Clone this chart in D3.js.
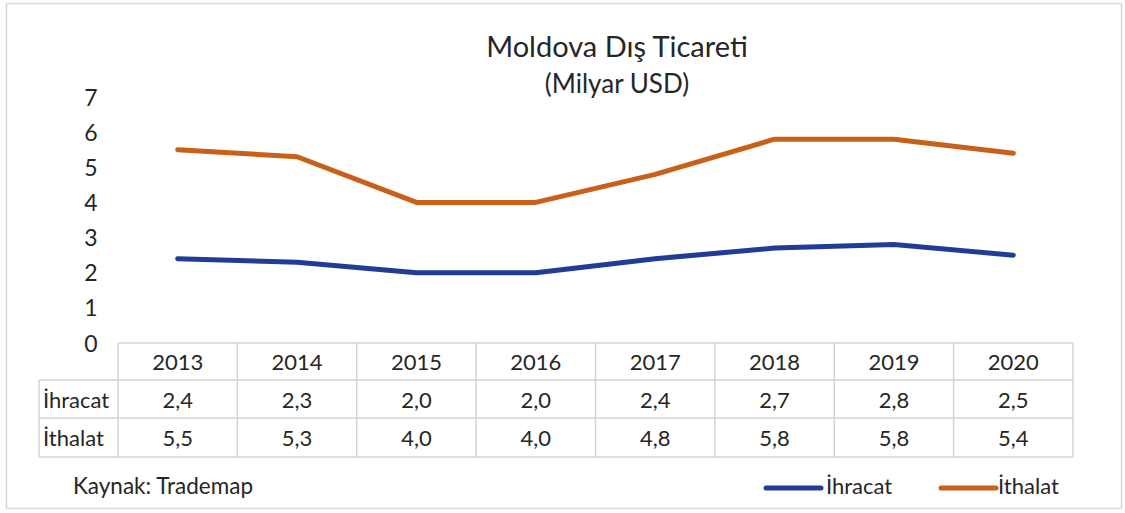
<!DOCTYPE html>
<html><head><meta charset="utf-8">
<script src="https://cdn.jsdelivr.net/npm/d3@7"></script>
<style>body{margin:0;background:#fff}svg{display:block}text{font-family:Lato,"Open Sans",sans-serif;fill:#262626}</style>
</head><body>
<svg id="c" width="1125" height="513"></svg>
<script>
const years = ["2013","2014","2015","2016","2017","2018","2019","2020"];
const ihracat = [2.4, 2.3, 2.0, 2.0, 2.4, 2.7, 2.8, 2.5];
const ithalat = [5.5, 5.3, 4.0, 4.0, 4.8, 5.8, 5.8, 5.4];
const yTicks = [0,1,2,3,4,5,6,7];
const seriesNames = ["İhracat","İthalat"];
const colors = ["#213C96","#C8601A"];
const title = "Moldova Dış Ticareti";
const subtitle = "(Milyar USD)";
const source = "Kaynak: Trademap";

const svg = d3.select("#c");
svg.append("rect").attr("x",6.5).attr("y",3.5).attr("width",1115).attr("height",505)
  .attr("fill","#fff").attr("stroke","#d9d9d9").attr("stroke-width",1.5);

const x = d3.scaleBand().domain(years).range([118,1073]);
const y = d3.scaleLinear().domain([0,7]).range([343,97]);

svg.append("text").attr("x",617).attr("y",57).attr("text-anchor","middle").style("font-size","29px").text(title);
svg.append("text").attr("x",617).attr("y",93).attr("text-anchor","middle").style("font-size","26px").text(subtitle);

// y axis labels
const yAxis = d3.axisLeft(y).tickValues(yTicks).tickFormat(d3.format("d")).tickSize(0).tickPadding(0);
const ya = svg.append("g").attr("transform","translate(91,0)").call(yAxis);
ya.select(".domain").remove();
ya.selectAll("text").attr("text-anchor","middle").style("font-size","23px").style("font-family","Lato,'Open Sans',sans-serif").attr("fill","#262626").attr("dy","0.35em");

// table
const rowY = [343,380,418,457];
const gridColor = "#d4d4d4";
const tg = svg.append("g");
tg.append("line").attr("x1",118).attr("x2",1073).attr("y1",rowY[0]).attr("y2",rowY[0]).attr("stroke",gridColor).attr("stroke-width",1.5);
for (let i=1;i<4;i++) tg.append("line").attr("x1",39).attr("x2",1073).attr("y1",rowY[i]).attr("y2",rowY[i]).attr("stroke",gridColor).attr("stroke-width",1.5);
tg.append("line").attr("x1",39).attr("x2",39).attr("y1",rowY[1]).attr("y2",rowY[3]).attr("stroke",gridColor).attr("stroke-width",1.5);
const vx = years.map(d=>x(d)).concat([x.range()[1]]);
vx.forEach(v=>tg.append("line").attr("x1",v).attr("x2",v).attr("y1",rowY[0]).attr("y2",rowY[3]).attr("stroke",gridColor).attr("stroke-width",1.5));

const fmt = v => d3.format(".1f")(v).replace(".",",");
tg.selectAll("text.yr").data(years).join("text").attr("class","yr")
  .attr("x",d=>x(d)+x.bandwidth()/2).attr("y",(rowY[0]+rowY[1])/2+1).attr("dy","0.35em")
  .attr("text-anchor","middle").style("font-size","22px").text(d=>d);
[ihracat, ithalat].forEach((arr,r)=>{
  const cy = (rowY[r+1]+rowY[r+2])/2+1;
  tg.append("text").attr("x",43).attr("y",cy).attr("dy","0.35em").style("font-size","22px").text(seriesNames[r]);
  tg.selectAll("text.v"+r).data(arr).join("text").attr("class","v"+r)
    .attr("x",(d,i)=>x(years[i])+x.bandwidth()/2).attr("y",cy).attr("dy","0.35em")
    .attr("text-anchor","middle").style("font-size","22px").text(d=>fmt(d));
});

// lines
const line = d3.line().x((d,i)=>x(years[i])+x.bandwidth()/2).y(d=>y(d));
[ihracat, ithalat].forEach((arr,r)=>{
  svg.append("path").attr("d",line(arr)).attr("fill","none").attr("stroke",colors[r])
    .attr("stroke-width",5).attr("stroke-linecap","round").attr("stroke-linejoin","round");
});

// source
svg.append("text").attr("x",73).attr("y",494).style("font-size","22.5px").text(source);

// legend
const leg = [{x:766,tx:826},{x:941,tx:998}];
seriesNames.forEach((n,i)=>{
  svg.append("line").attr("x1",leg[i].x).attr("x2",leg[i].x+55).attr("y1",488).attr("y2",488)
    .attr("stroke",colors[i]).attr("stroke-width",5).attr("stroke-linecap","round");
  svg.append("text").attr("x",leg[i].tx).attr("y",494).style("font-size","22px").text(n);
});
</script>
</body></html>
